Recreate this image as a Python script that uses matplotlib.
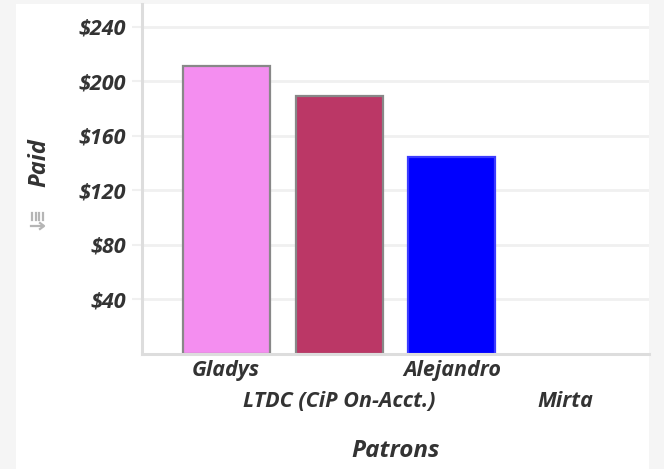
import matplotlib
matplotlib.use("Agg")
import matplotlib.pyplot as plt
from matplotlib.patches import Rectangle
from matplotlib.lines import Line2D
from matplotlib.ticker import FuncFormatter
from matplotlib import font_manager as fm

categories = ["Gladys", "LTDC (CiP On-Acct.)", "Alejandro", "Mirta"]
paid = [211, 189, 144, 0]
bar_colors = ["#f48ef0", "#bb3766", "#0000ff", "#888888"]
edge_colors = ["#888888", "#888888", "#3b3bff", "none"]
yticks = [40, 80, 120, 160, 200, 240]

W, H = 664, 469
fig = plt.figure(figsize=(W / 100, H / 100), dpi=100)
fig.patch.set_facecolor("#f5f5f5")
fig.patches.append(Rectangle((16 / W, 0), (649 - 16) / W, (H - 4) / H,
                             transform=fig.transFigure, facecolor="white",
                             edgecolor="none", zorder=-5))

ax = fig.add_axes([142 / W, (H - 353.5) / H, (649 - 142) / W, (353.5 - 4) / H])
ax.set_facecolor("white")

x = list(range(len(categories)))
ax.bar(x, paid, width=0.77, color=bar_colors, edgecolor=edge_colors,
       linewidth=1.6, zorder=3)

ax.set_xlim(-0.745, 3.745)
ax.set_ylim(0, 256.7)
ax.set_yticks(yticks)
ax.yaxis.set_major_formatter(FuncFormatter(lambda v, p: f"${v:.0f}"))
ax.grid(axis="y", color="#f0f0f0", linewidth=2, zorder=0)
ax.set_axisbelow(True)

for s in ["top", "right"]:
    ax.spines[s].set_visible(False)
for s in ["left", "bottom"]:
    ax.spines[s].set_color("#dddddd")
    ax.spines[s].set_linewidth(2.2)
    ax.spines[s].set_zorder(4)

font = "Open Sans"
fkw = dict(family=font, weight="bold", style="italic")
TS = 15.5
ax.tick_params(axis="y", length=7.2, width=1.5, color="#f0f0f0", pad=4.4,
               labelcolor="#333333")
for lbl in ax.get_yticklabels():
    lbl.set_fontproperties(fm.FontProperties(size=TS, **fkw))

ax.set_xticks(x)
ax.set_xticklabels(categories)
ax.tick_params(axis="x", length=0, labelcolor="#333333")
for i, (t, lbl) in enumerate(zip(ax.xaxis.get_major_ticks(), ax.get_xticklabels())):
    t.set_pad(5.0 if i % 2 == 0 else 27.0)
    lbl.set_fontproperties(fm.FontProperties(size=TS, **fkw))

fig.text(39.5 / W, 1 - 163 / H, "Paid", rotation=90, ha="center", va="center",
         fontproperties=fm.FontProperties(size=17, **fkw), color="#333333")
fig.text(395.5 / W, 1 - 457 / H, "Patrons", ha="center", va="baseline",
         fontproperties=fm.FontProperties(size=17.5, **fkw), color="#333333")

# small icon
for xx in [32, 35.5, 39, 42.5]:
    fig.add_artist(Line2D([xx / W, xx / W], [1 - 213 / H, 1 - 220 / H],
                          transform=fig.transFigure, color="#b5b5b5", lw=1.6))
fig.add_artist(Line2D([31 / W, 43 / W], [1 - 226 / H, 1 - 226 / H],
                      transform=fig.transFigure, color="#b5b5b5", lw=1.6))
fig.add_artist(Line2D([40 / W, 44 / W, 40 / W], [1 - 223 / H, 1 - 226 / H, 1 - 229 / H],
                      transform=fig.transFigure, color="#b5b5b5", lw=1.6))

fig.savefig("out.png", dpi=100, facecolor=fig.get_facecolor())
